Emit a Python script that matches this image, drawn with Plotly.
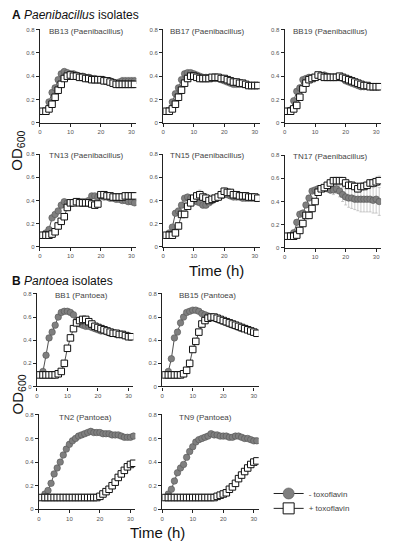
import plotly.graph_objects as go

# the page body has an 8 px default margin; coordinates below are reference-picture pixels
OFF = 8
W, H = 393 - OFF, 550 - OFF
def px(x):
    return (x - OFF) / W
def py(y):
    return 1 - (y - OFF) / H

time_h = list(range(1, 32))

# ---- data (OD600), "-" = no toxoflavin (circles), "+" = with toxoflavin (squares)
BB13_minus = [0.10,0.10,0.18,0.26,0.30,0.37,0.42,0.44,0.43,0.42,0.42,0.41,0.40,0.40,0.39,0.39,0.38,0.38,0.37,0.37,0.37,0.36,0.36,0.35,0.34,0.35,0.36,0.36,0.36,0.36,0.36]
BB13_plus  = [0.10,0.10,0.12,0.16,0.22,0.28,0.33,0.38,0.40,0.41,0.40,0.40,0.39,0.39,0.38,0.38,0.37,0.37,0.37,0.37,0.36,0.36,0.35,0.34,0.33,0.33,0.33,0.33,0.33,0.33,0.33]
BB17_minus = [0.10,0.10,0.18,0.25,0.30,0.37,0.42,0.43,0.43,0.42,0.41,0.40,0.39,0.39,0.39,0.38,0.38,0.38,0.37,0.36,0.35,0.34,0.33,0.33,0.33,0.33,0.33,0.32,0.32,0.32,0.32]
BB17_plus  = [0.10,0.10,0.12,0.16,0.22,0.28,0.34,0.38,0.40,0.40,0.39,0.38,0.38,0.38,0.38,0.39,0.39,0.39,0.38,0.38,0.37,0.36,0.35,0.35,0.34,0.34,0.33,0.32,0.32,0.32,0.32]
BB19_minus = [0.10,0.11,0.19,0.27,0.30,0.37,0.38,0.39,0.39,0.39,0.40,0.40,0.41,0.40,0.39,0.39,0.39,0.39,0.38,0.36,0.35,0.34,0.33,0.32,0.31,0.31,0.31,0.31,0.31,0.31,0.31]
BB19_plus  = [0.10,0.10,0.12,0.15,0.22,0.29,0.34,0.37,0.38,0.39,0.41,0.40,0.39,0.39,0.39,0.39,0.39,0.40,0.39,0.38,0.37,0.36,0.35,0.34,0.33,0.32,0.32,0.31,0.31,0.31,0.31]
TN13_minus = [0.10,0.12,0.15,0.25,0.28,0.31,0.36,0.39,0.38,0.38,0.38,0.39,0.39,0.39,0.39,0.40,0.44,0.44,0.43,0.44,0.43,0.43,0.42,0.42,0.41,0.41,0.40,0.40,0.39,0.39,0.38]
TN13_plus  = [0.10,0.10,0.10,0.11,0.13,0.18,0.22,0.26,0.34,0.38,0.38,0.39,0.38,0.38,0.38,0.38,0.37,0.36,0.37,0.45,0.45,0.44,0.44,0.43,0.43,0.43,0.43,0.44,0.44,0.44,0.44]
TN15_minus = [0.10,0.12,0.17,0.29,0.31,0.36,0.42,0.43,0.42,0.40,0.39,0.38,0.36,0.36,0.38,0.40,0.42,0.43,0.44,0.45,0.45,0.44,0.43,0.43,0.43,0.42,0.42,0.42,0.42,0.42,0.42]
TN15_plus  = [0.10,0.10,0.10,0.12,0.18,0.28,0.28,0.35,0.38,0.42,0.44,0.45,0.43,0.42,0.40,0.41,0.42,0.43,0.45,0.48,0.47,0.47,0.45,0.45,0.44,0.44,0.44,0.43,0.43,0.43,0.42]
TN17_minus = [0.10,0.10,0.13,0.22,0.29,0.30,0.37,0.43,0.49,0.50,0.51,0.51,0.51,0.51,0.50,0.50,0.51,0.49,0.46,0.44,0.43,0.43,0.42,0.42,0.42,0.42,0.42,0.42,0.41,0.42,0.40]
TN17_plus  = [0.10,0.10,0.10,0.11,0.15,0.21,0.28,0.28,0.34,0.40,0.48,0.51,0.52,0.54,0.56,0.58,0.58,0.58,0.58,0.56,0.54,0.54,0.53,0.51,0.53,0.53,0.54,0.56,0.56,0.57,0.58]
BB1_minus  = [0.10,0.13,0.27,0.42,0.47,0.53,0.60,0.64,0.65,0.65,0.64,0.62,0.57,0.54,0.53,0.52,0.52,0.51,0.50,0.49,0.48,0.48,0.47,0.46,0.46,0.45,0.45,0.45,0.44,0.44,0.43]
BB1_plus   = [0.10,0.10,0.10,0.10,0.10,0.10,0.11,0.13,0.20,0.33,0.42,0.50,0.55,0.57,0.58,0.58,0.56,0.54,0.52,0.51,0.50,0.49,0.48,0.47,0.46,0.46,0.45,0.45,0.44,0.43,0.43]
BB15_minus = [0.10,0.13,0.24,0.42,0.47,0.55,0.60,0.64,0.65,0.66,0.66,0.65,0.63,0.62,0.61,0.60,0.59,0.58,0.57,0.56,0.55,0.54,0.53,0.52,0.51,0.50,0.50,0.49,0.48,0.47,0.46]
BB15_plus  = [0.10,0.10,0.10,0.10,0.10,0.10,0.11,0.14,0.20,0.32,0.39,0.47,0.54,0.57,0.59,0.60,0.60,0.59,0.58,0.57,0.56,0.55,0.54,0.53,0.52,0.51,0.50,0.49,0.48,0.47,0.46]
TN2_minus  = [0.10,0.13,0.16,0.22,0.30,0.35,0.40,0.46,0.51,0.55,0.58,0.60,0.62,0.63,0.64,0.65,0.66,0.65,0.65,0.65,0.64,0.64,0.64,0.63,0.63,0.63,0.62,0.61,0.61,0.61,0.62]
TN2_plus   = [0.10,0.10,0.10,0.10,0.10,0.10,0.10,0.10,0.10,0.10,0.10,0.10,0.10,0.10,0.10,0.10,0.10,0.10,0.10,0.11,0.13,0.15,0.17,0.20,0.23,0.27,0.30,0.33,0.36,0.38,0.39]
TN9_minus  = [0.10,0.13,0.17,0.24,0.31,0.35,0.38,0.44,0.49,0.53,0.57,0.59,0.60,0.61,0.62,0.64,0.63,0.63,0.62,0.62,0.62,0.61,0.61,0.62,0.62,0.61,0.60,0.60,0.59,0.58,0.58]
TN9_plus   = [0.10,0.10,0.10,0.10,0.10,0.10,0.10,0.10,0.10,0.10,0.10,0.10,0.10,0.10,0.10,0.10,0.10,0.11,0.12,0.13,0.14,0.17,0.19,0.22,0.26,0.29,0.32,0.35,0.38,0.40,0.41]

# standard deviations (only where visible)
TN17_minus_err = [0,0,0,0,0,0,0,0,0.01,0.01,0.02,0.02,0.02,0.02,0.03,0.04,0.04,0.05,0.06,0.07,0.08,0.09,0.09,0.10,0.11,0.11,0.11,0.11,0.11,0.12,0.12]
TN17_plus_err  = [0,0,0,0,0,0,0,0,0,0.01,0.01,0.01,0.01,0.01,0.02,0.02,0.02,0.02,0.02,0.02,0.02,0.03,0.03,0.03,0.03,0.03,0.03,0.03,0.04,0.04,0.04]
TN15_plus_err  = [0,0,0,0,0,0,0,0,0.01,0.02,0.03,0.04,0.04,0.04,0.04,0.04,0.03,0.03,0.03,0.03,0.03,0.02,0.02,0.02,0.02,0.02,0.02,0.02,0.02,0.02,0.02]
BB13_minus_err = [0]*24 + [0.01,0.02,0.03,0.03,0.03,0.03,0.03]

panels = [
    ("BB13 (Paenibacillus)", BB13_minus, BB13_plus, BB13_minus_err, None),
    ("BB17 (Paenibacillus)", BB17_minus, BB17_plus, None, None),
    ("BB19 (Paenibacillus)", BB19_minus, BB19_plus, None, None),
    ("TN13 (Paenibacillus)", TN13_minus, TN13_plus, None, None),
    ("TN15 (Paenibacillus)", TN15_minus, TN15_plus, None, TN15_plus_err),
    ("TN17 (Paenibacillus)", TN17_minus, TN17_plus, TN17_minus_err, TN17_plus_err),
    ("BB1 (Pantoea)", BB1_minus, BB1_plus, None, None),
    ("BB15 (Pantoea)", BB15_minus, BB15_plus, None, None),
    ("TN2 (Pantoea)", TN2_minus, TN2_plus, None, None),
    ("TN9 (Pantoea)", TN9_minus, TN9_plus, None, None),
]

# layout geometry in reference pixels: (left, top, bottom)
geom = [
    (38, 27, 122), (162, 27, 122), (284, 27, 122),
    (38, 153, 247), (162, 153, 247), (284, 154, 248),
    (35, 294, 388), (161, 294, 388),
    (37, 416, 512), (161, 416, 512),
]
PW = 97  # plot width in px for x range [0, 31.6]
title_pos = [
    ("left", 45, 30), ("left", 167, 30), ("left", 290, 30),
    ("left", 45, 155), ("left", 167, 155), ("left", 290, 156),
    ("center", 80, 296), ("center", 207, 296),
    ("center", 84, 419), ("center", 205, 419),
]

FONT = "Liberation Sans, Arial"
circle_marker = dict(symbol="circle", color="#7f7f7f", line=dict(color="#555", width=0.6))
square_marker = dict(symbol="square", color="white", line=dict(color="#111", width=1))

fig = go.Figure()
layout = {}
annotations = []
for i, (name, ym, yp, em, ep) in enumerate(panels):
    k = "" if i == 0 else str(i + 1)
    left, top, bottom = geom[i]
    axcommon = dict(showline=True, linecolor="#222", linewidth=1.1, ticks="outside",
                    ticklen=3, tickwidth=1, tickcolor="#222", showgrid=False, zeroline=False,
                    tickfont=dict(size=6, color="#555", family=FONT))
    layout["xaxis" + k] = dict(domain=[px(left), px(left + PW)], range=[0, 31.6],
                               tickvals=[0, 10, 20, 30], anchor="y" + k, **axcommon)
    layout["yaxis" + k] = dict(domain=[py(bottom), py(top)], range=[0, 0.805],
                               tickvals=[0, 0.2, 0.4, 0.6, 0.8],
                               ticktext=["0", "0.2", "0.4", "0.6", "0.8"],
                               anchor="x" + k, **axcommon)
    fig.add_trace(go.Scatter(
        x=time_h, y=ym, xaxis="x" + k, yaxis="y" + k, mode="lines+markers",
        name="- toxoflavin", showlegend=False,
        line=dict(color="#222", width=0.8),
        marker=dict(size=6.5, **circle_marker),
        error_y=dict(type="data", array=em, visible=em is not None, color="#aaa", thickness=0.6, width=1.5),
    ))
    fig.add_trace(go.Scatter(
        x=time_h, y=yp, xaxis="x" + k, yaxis="y" + k, mode="lines+markers",
        name="+ toxoflavin", showlegend=False,
        line=dict(color="#222", width=0.8),
        marker=dict(size=6.5, **square_marker),
        error_y=dict(type="data", array=ep, visible=ep is not None, color="#aaa", thickness=0.6, width=1.5),
    ))
    anc, tx, ty = title_pos[i]
    annotations.append(dict(text=name, x=px(tx), y=py(ty), xanchor=anc, yanchor="middle",
                            font=dict(size=8, color="#444", family=FONT)))

# legend entries (larger symbols, as in the reference legend), one legend per row
fig.add_trace(go.Scatter(x=[None], y=[None], mode="lines+markers", name="- toxoflavin",
                         legend="legend",
                         line=dict(color="#222", width=1), marker=dict(size=11, **circle_marker)))
fig.add_trace(go.Scatter(x=[None], y=[None], mode="lines+markers", name="+ toxoflavin",
                         legend="legend2",
                         line=dict(color="#222", width=1), marker=dict(size=11, **square_marker)))

big = dict(family=FONT, color="#111")
annotations += [
    dict(text="<b>A</b> <i>Paenibacillus</i> isolates", x=px(8), y=py(13), xanchor="left",
         yanchor="middle", font=dict(size=12, **big)),
    dict(text="<b>B</b> <i>Pantoea</i> isolates", x=px(8), y=py(282), xanchor="left",
         yanchor="middle", font=dict(size=12, **big)),
    dict(text="Time (h)", x=px(216), y=py(271), xanchor="center", yanchor="middle",
         font=dict(size=15, **big)),
    dict(text="Time (h)", x=px(156), y=py(535), xanchor="center", yanchor="middle",
         font=dict(size=15, **big)),
    dict(text="OD<sub>600</sub>", x=px(16), y=py(150), xanchor="center", yanchor="middle",
         textangle=-90, font=dict(size=15, **big)),
    dict(text="OD<sub>600</sub>", x=px(16), y=py(396), xanchor="center", yanchor="middle",
         textangle=-90, font=dict(size=15, **big)),
]
for a in annotations:
    a.setdefault("xref", "paper")
    a.setdefault("yref", "paper")
    a.setdefault("showarrow", False)

legend_style = dict(xanchor="left", yanchor="middle",
                    font=dict(size=8, color="#444", family=FONT),
                    bgcolor="rgba(0,0,0,0)", itemwidth=30)
fig.update_layout(
    width=W, height=H, margin=dict(l=0, r=0, t=0, b=0),
    paper_bgcolor="white", plot_bgcolor="white",
    annotations=annotations,
    legend=dict(x=px(268), y=py(496), **legend_style),
    legend2=dict(x=px(268), y=py(511), **legend_style),
    **layout,
)
fig.write_html("out.html")
